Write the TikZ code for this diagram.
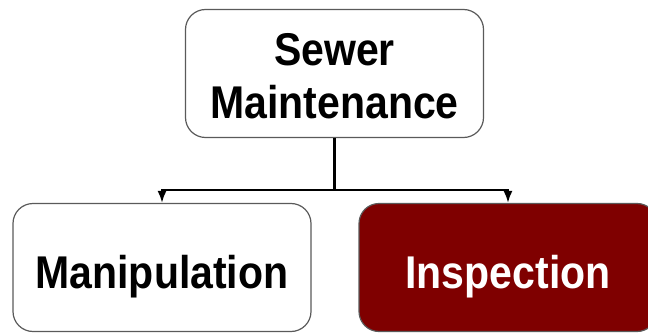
\documentclass[tikz,border=0pt]{standalone}
\usepackage{fontspec}
\setmainfont{Liberation Sans}
\usetikzlibrary{arrows.meta}
\definecolor{maroon}{RGB}{127,0,0}
\definecolor{boxline}{RGB}{90,90,90}
% bold caption text, a little taller than wide
\newcommand{\tallbf}[1]{\scalebox{1}[1.12]{\bfseries #1}}
\tikzset{
    block/.style={draw=boxline, line width=1.2pt, rounded corners=20pt,
        minimum width=298pt, minimum height=128pt},
    caption/.style={align=center, inner sep=0pt,
        font=\fontsize{41}{53}\selectfont},
    link/.style={line width=2pt, -{Latex[length=12pt,width=9pt]}}
}
\begin{document}
\begin{tikzpicture}[x=1pt,y=-1pt]
    \useasboundingbox (0,0) rectangle (648,334);

    \node (sewer) at (334.5,73.5) [block, fill=white] {};
    \node (manip) at (162,267.5) [block, fill=white] {};
    \node (insp) at (508,267.5) [block, fill=maroon] {};

    \node (split) [coordinate] at (334.5,190) {};
    \draw [line width=2.8pt] (sewer.south) -- (split);
    \path [link]
        (split) edge [to path={-| (\tikztotarget)}] (manip.north)
        (split) edge [to path={-| (\tikztotarget)}] (insp.north)
    ;

    \node [caption] at (334.5,76.5) {\tallbf{Sewer}\\\tallbf{Maintenance}};
    \node [caption, anchor=base] at (162,288) {\tallbf{Manipulation}};
    \node [caption, anchor=base, text=white] at (508,288.5) {\tallbf{Inspection}};
\end{tikzpicture}
\end{document}
